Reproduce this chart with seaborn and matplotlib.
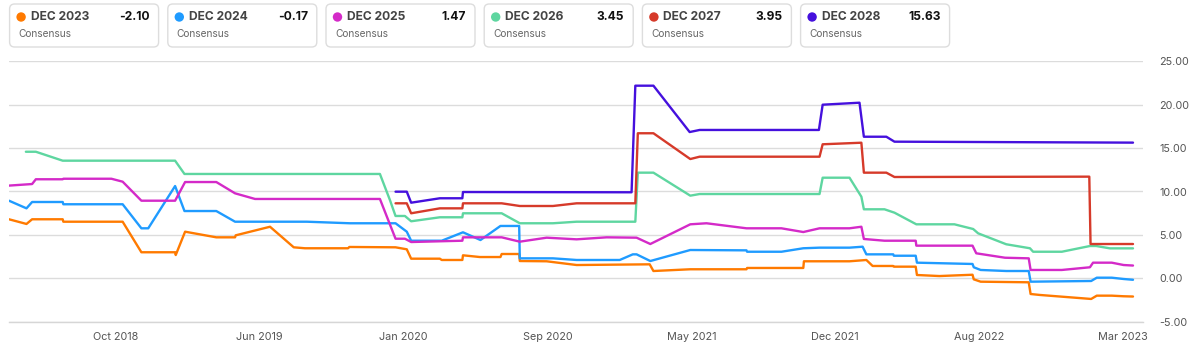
import matplotlib
matplotlib.use("Agg")
import matplotlib.pyplot as plt
from matplotlib.patches import FancyBboxPatch, Circle
import pandas as pd
import seaborn as sns

# ---------------- data ----------------
series_names = ["DEC 2023", "DEC 2024", "DEC 2025", "DEC 2026", "DEC 2027", "DEC 2028"]
series_colors = ["#FF7A00", "#1F9BFF", "#D42AC8", "#5ED6A0", "#D63A2A", "#4510DD"]
legend_subtitle = "Consensus"

dec2023_dates = ["2018-05-07", "2018-06-04", "2018-06-13", "2018-08-01", "2018-08-02", "2018-11-05",
                 "2018-12-05", "2019-01-28", "2019-01-29", "2019-02-13", "2019-04-04", "2019-05-04",
                 "2019-05-05", "2019-06-29", "2019-08-06", "2019-08-24", "2019-11-01", "2019-11-03",
                 "2020-01-16", "2020-02-03", "2020-02-10", "2020-03-27", "2020-03-30", "2020-05-02",
                 "2020-05-03", "2020-05-30", "2020-07-02", "2020-07-04", "2020-08-01", "2020-08-02",
                 "2020-09-14", "2020-11-01", "2021-02-26", "2021-03-04", "2021-05-02", "2021-07-31",
                 "2021-08-01", "2021-10-30", "2021-10-31", "2022-01-12", "2022-02-08", "2022-02-18",
                 "2022-03-23", "2022-03-24", "2022-04-28", "2022-04-30", "2022-06-05", "2022-07-28",
                 "2022-07-30", "2022-08-10", "2022-10-26", "2022-10-29", "2022-11-13", "2023-02-03",
                 "2023-02-12", "2023-03-08", "2023-03-27", "2023-04-11"]
dec2023_values = [6.80, 6.26, 6.80, 6.80, 6.52, 6.52,
                  3.00, 3.00, 2.68, 5.37, 4.72, 4.72,
                  4.95, 5.94, 3.57, 3.46, 3.46, 3.61,
                  3.57, 3.34, 2.26, 2.26, 2.11, 2.11,
                  2.65, 2.45, 2.45, 2.80, 2.80, 1.99,
                  1.96, 1.53, 1.61, 0.84, 1.04, 1.04,
                  1.19, 1.19, 1.96, 1.96, 2.11, 1.42,
                  1.42, 1.34, 1.34, 0.38, 0.26, 0.41,
                  -0.12, -0.39, -0.46, -1.81, -1.92, -2.38,
                  -2.00, -2.00, -2.07, -2.10]

dec2024_dates = ["2018-05-07", "2018-06-04", "2018-06-13", "2018-08-01", "2018-08-02", "2018-11-05",
                 "2018-12-05", "2018-12-16", "2019-01-28", "2019-02-12", "2019-04-04", "2019-05-04",
                 "2019-08-27", "2019-11-04", "2020-01-16", "2020-02-03", "2020-02-10", "2020-03-30",
                 "2020-05-03", "2020-05-31", "2020-07-02", "2020-08-01", "2020-08-02", "2020-09-24",
                 "2020-11-01", "2021-01-09", "2021-01-30", "2021-02-05", "2021-02-27", "2021-05-02",
                 "2021-07-31", "2021-08-01", "2021-09-25", "2021-10-30", "2021-11-25", "2022-01-12",
                 "2022-02-02", "2022-02-08", "2022-03-23", "2022-03-24", "2022-04-28", "2022-04-30",
                 "2022-07-28", "2022-07-30", "2022-08-10", "2022-09-20", "2022-10-26", "2022-10-29",
                 "2023-02-03", "2023-02-12", "2023-03-08", "2023-03-27", "2023-04-11"]
dec2024_values = [8.94, 8.06, 8.79, 8.79, 8.53, 8.53,
                  5.76, 5.76, 10.63, 7.75, 7.75, 6.52,
                  6.52, 6.34, 6.34, 5.37, 4.33, 4.33,
                  5.30, 4.41, 6.03, 6.03, 2.30, 2.30,
                  2.11, 2.11, 2.76, 2.76, 1.99, 3.26,
                  3.22, 3.06, 3.06, 3.46, 3.53, 3.53,
                  3.64, 2.76, 2.76, 2.60, 2.60, 1.80,
                  1.65, 1.27, 0.96, 0.84, 0.84, -0.39,
                  -0.31, 0.07, 0.07, -0.08, -0.17]

dec2025_dates = ["2018-05-07", "2018-06-13", "2018-06-19", "2018-08-01", "2018-08-02", "2018-10-18",
                 "2018-11-05", "2018-12-05", "2019-01-28", "2019-02-13", "2019-04-04", "2019-05-04",
                 "2019-06-05", "2019-12-22", "2020-01-16", "2020-01-31", "2020-02-10", "2020-05-02",
                 "2020-05-03", "2020-07-04", "2020-08-02", "2020-09-14", "2020-11-01", "2020-12-19",
                 "2021-02-05", "2021-02-27", "2021-05-02", "2021-05-28", "2021-07-31", "2021-09-25",
                 "2021-10-30", "2021-11-25", "2022-01-12", "2022-01-31", "2022-02-04", "2022-03-09",
                 "2022-04-28", "2022-04-29", "2022-07-28", "2022-08-03", "2022-09-18", "2022-10-26",
                 "2022-10-29", "2022-12-18", "2023-02-01", "2023-02-06", "2023-03-08", "2023-03-27",
                 "2023-04-11"]
dec2025_values = [10.68, 10.86, 11.41, 11.41, 11.47, 11.47,
                  11.13, 8.94, 8.94, 11.09, 11.09, 9.79,
                  9.14, 9.14, 4.56, 4.56, 4.18, 4.33,
                  4.72, 4.72, 4.22, 4.68, 4.49, 4.72,
                  4.68, 3.95, 6.22, 6.34, 5.76, 5.76,
                  5.33, 5.76, 5.76, 5.94, 4.53, 4.33,
                  4.33, 3.76, 3.76, 2.88, 2.37, 2.30,
                  0.96, 0.96, 1.27, 1.80, 1.80, 1.53,
                  1.47]

dec2026_dates = ["2018-06-03", "2018-06-19", "2018-08-01", "2019-01-28", "2019-02-12", "2019-12-22",
                 "2020-01-07", "2020-01-16", "2020-01-31", "2020-02-10", "2020-03-27", "2020-05-02",
                 "2020-05-03", "2020-07-04", "2020-08-02", "2020-09-24", "2020-11-01", "2021-02-03",
                 "2021-02-07", "2021-03-04", "2021-05-02", "2021-05-17", "2021-11-25", "2021-11-30",
                 "2022-01-12", "2022-01-31", "2022-02-04", "2022-03-09", "2022-03-25", "2022-04-29",
                 "2022-06-29", "2022-07-29", "2022-08-06", "2022-09-20", "2022-10-28", "2022-11-02",
                 "2022-12-18", "2023-02-01", "2023-02-11", "2023-03-05", "2023-04-11"]
dec2026_values = [14.58, 14.58, 13.55, 13.55, 12.02, 12.02,
                  9.02, 7.18, 7.18, 6.57, 7.03, 7.03,
                  7.49, 7.49, 6.34, 6.34, 6.52, 6.52,
                  12.17, 12.17, 9.52, 9.71, 9.71, 11.59,
                  11.59, 9.40, 7.95, 7.95, 7.56, 6.22,
                  6.22, 5.68, 5.18, 3.92, 3.46, 3.06,
                  3.06, 3.72, 3.72, 3.45, 3.45]

dec2027_dates = ["2020-01-16", "2020-02-03", "2020-02-10", "2020-03-27", "2020-05-02", "2020-05-03",
                 "2020-07-04", "2020-08-02", "2020-09-24", "2020-11-01", "2021-02-03", "2021-02-07",
                 "2021-03-04", "2021-05-02", "2021-05-17", "2021-11-25", "2021-11-30", "2022-01-31",
                 "2022-02-04", "2022-03-12", "2022-03-25", "2023-01-31", "2023-02-02", "2023-04-11"]
dec2027_values = [8.64, 8.64, 7.49, 8.06, 8.06, 8.64,
                  8.64, 8.33, 8.33, 8.64, 8.64, 16.71,
                  16.71, 13.74, 14.01, 14.01, 15.44, 15.62,
                  12.17, 12.17, 11.67, 11.71, 3.95, 3.95]

dec2028_dates = ["2020-01-16", "2020-02-03", "2020-02-10", "2020-03-27", "2020-05-02", "2020-05-03",
                 "2021-01-28", "2021-02-03", "2021-03-04", "2021-05-01", "2021-05-17", "2021-11-24",
                 "2021-11-30", "2022-01-28", "2022-02-04", "2022-03-12", "2022-03-25", "2023-04-11"]
dec2028_values = [9.98, 9.98, 8.71, 9.22, 9.22, 9.94,
                  9.91, 22.19, 22.19, 16.85, 17.09, 17.09,
                  20.00, 20.23, 16.31, 16.31, 15.74, 15.63]

y_ticks = [-5, 0, 5, 10, 15, 20, 25]
x_tick_start = "2018-10-25"
x_tick_step_days = 230.4
x_tick_count = 8
x_range = ["2018-05-07", "2023-04-27"]

all_dates = [dec2023_dates, dec2024_dates, dec2025_dates, dec2026_dates, dec2027_dates, dec2028_dates]
all_values = [dec2023_values, dec2024_values, dec2025_values, dec2026_values, dec2027_values, dec2028_values]

frames = []
for name, d, v in zip(series_names, all_dates, all_values):
    frames.append(pd.DataFrame({"date": pd.to_datetime(d), "value": v, "series": name}))
df = pd.concat(frames, ignore_index=True)

# ---------------- plot ----------------
sns.set_theme(style="white")
plt.rcParams["font.family"] = ["Inter", "DejaVu Sans"]

W, H = 1191, 349
fig = plt.figure(figsize=(W / 100, H / 100), dpi=100)
ax = fig.add_axes([9 / W, 1 - 321.7 / H, (1143 - 9) / W, (321.7 - 61.3) / H])

sns.lineplot(data=df, x="date", y="value", hue="series", hue_order=series_names,
             palette=dict(zip(series_names, series_colors)), estimator=None,
             linewidth=1.7, legend=False, ax=ax)

ax.set_ylim(y_ticks[0], y_ticks[-1])
ax.set_xlim(pd.Timestamp(x_range[0]), pd.Timestamp(x_range[1]))
ax.yaxis.tick_right()
ax.set_yticks(y_ticks)
ax.set_yticklabels([f"{t:.2f}" for t in y_ticks])
ax.tick_params(axis="y", length=0, pad=11.5, labelsize=7.8, labelcolor="#555555")

t0 = pd.Timestamp(x_tick_start)
xt = [t0 + pd.Timedelta(days=x_tick_step_days * k) for k in range(x_tick_count)]
ax.set_xticks(xt)
ax.set_xticklabels([t.strftime("%b %Y") for t in xt])
ax.tick_params(axis="x", length=5.8, width=1, color="#d9d9d9", pad=1.5,
               labelsize=7.8, labelcolor="#555555", direction="out")

ax.grid(axis="y", color="#dcdcdc", linewidth=1)
ax.grid(axis="x", visible=False)
for s in ["top", "left", "right"]:
    ax.spines[s].set_visible(False)
ax.spines["bottom"].set_color("#d6d6d6")
ax.spines["bottom"].set_linewidth(1)
ax.set_xlabel("")
ax.set_ylabel("")

# ---------------- legend cards ----------------
tr = fig.dpi_scale_trans
def px(x, y):
    return x / 100, (H - y) / 100

box_w, box_h, stride, x0, y_top = 149, 43, 158.2, 9.6, 4
for i, (name, col, vals) in enumerate(zip(series_names, series_colors, all_values)):
    left = x0 + stride * i
    bx, by = px(left, y_top + box_h)
    card = FancyBboxPatch((bx, by), box_w / 100, box_h / 100,
                          boxstyle="round,pad=0,rounding_size=0.05",
                          transform=tr, facecolor="white", edgecolor="#dddddd",
                          linewidth=1, zorder=5)
    fig.patches.append(card)
    cx, cy = px(left + 11.5, 17)
    fig.patches.append(Circle((cx, cy), 0.047, transform=tr, facecolor=col,
                              edgecolor="none", zorder=6))
    tx, ty = px(left + 21, 17)
    fig.text(tx, ty, name, transform=tr, fontsize=8.7, fontweight="bold",
             color="#444444", va="center", ha="left", zorder=7)
    vx, vy = px(left + 140, 17)
    fig.text(vx, vy, f"{vals[-1]:.2f}", transform=tr, fontsize=8.7,
             fontweight="bold", color="#111111", va="center", ha="right", zorder=7)
    sx, sy = px(left + 9, 34)
    fig.text(sx, sy, legend_subtitle, transform=tr, fontsize=7.3,
             color="#666666", va="center", ha="left", zorder=7)

fig.savefig("out.png", dpi=100)
